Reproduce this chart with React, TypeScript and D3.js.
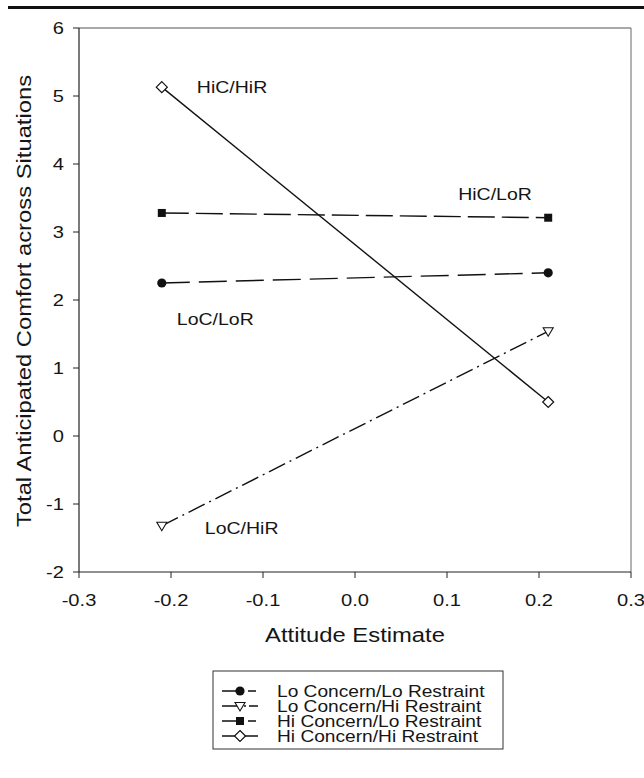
import React from "react";
import * as d3 from "d3";

// values
const attitude = [-0.21, 0.21];
const loConLoRes = [2.25, 2.4];
const loConHiRes = [-1.32, 1.54];
const hiConLoRes = [3.28, 3.21];
const hiConHiRes = [5.13, 0.5];

const seriesNames = [
  "Lo Concern/Lo Restraint",
  "Lo Concern/Hi Restraint",
  "Hi Concern/Lo Restraint",
  "Hi Concern/Hi Restraint",
];
const shortLabels = ["LoC/LoR", "LoC/HiR", "HiC/LoR", "HiC/HiR"];

const xTicks = [-0.3, -0.2, -0.1, 0.0, 0.1, 0.2, 0.3];
const yTicks = [-2, -1, 0, 1, 2, 3, 4, 5, 6];

const W = 644,
  H = 778;
const FONT = "'Liberation Sans', Arial, Helvetica, sans-serif";
const SX = 1.22; // the scanned type is wider than Arial

const x = d3.scaleLinear().domain([-0.3, 0.3]).range([79, 631]);
const y = d3.scaleLinear().domain([-2, 6]).range([572, 28]);

const series = [
  { name: seriesNames[0], label: shortLabels[0], values: loConLoRes, dash: "28,9", legDash: "22,4,8", marker: "circle", lab: { i: 0, dx: 15, dy: 42 } },
  { name: seriesNames[1], label: shortLabels[1], values: loConHiRes, dash: "18,5,2,5", legDash: "18,4,2,3,10", marker: "triangle", lab: { i: 0, dx: 43, dy: 8 } },
  { name: seriesNames[2], label: shortLabels[2], values: hiConLoRes, dash: "27,7", legDash: "22,4,8", marker: "square", lab: { i: 1, dx: -90, dy: -18 } },
  { name: seriesNames[3], label: shortLabels[3], values: hiConHiRes, dash: "none", legDash: "none", marker: "diamond", lab: { i: 0, dx: 35, dy: 6 } },
];

const fmt = (v: number) => d3.format(".1f")(v).replace("\u2212", "-");

const Txt = ({ x, y, size, anchor = "start", rotate = 0, children }: any) => (
  <text
    transform={`translate(${x},${y}) rotate(${rotate}) scale(${SX},1)`}
    textAnchor={anchor}
    fontSize={size}
    fontFamily={FONT}
    fill="#151515"
  >
    {children}
  </text>
);

const Marker = ({ type, cx, cy }: any) => {
  if (type === "circle") return <circle cx={cx} cy={cy} r={4.6} fill="#111" />;
  if (type === "square") return <rect x={cx - 4} y={cy - 4} width={8} height={8} fill="#111" />;
  if (type === "diamond")
    return (
      <path
        d={`M${cx},${cy - 5.5}L${cx + 5.5},${cy}L${cx},${cy + 5.5}L${cx - 5.5},${cy}Z`}
        fill="#fff"
        stroke="#111"
        strokeWidth={1.2}
      />
    );
  return (
    <path
      d={`M${cx - 5},${cy - 3.5}L${cx + 5},${cy - 3.5}L${cx},${cy + 5}Z`}
      fill="#fff"
      stroke="#111"
      strokeWidth={1.1}
    />
  );
};

export default function App() {
  const line = d3
    .line<number>()
    .x((_, i) => x(attitude[i]))
    .y((d) => y(d));

  const legX = 213,
    legTop = 671,
    legRow = 15,
    legFirst = 691;

  return (
    <svg width={W} height={H} style={{ position: "absolute", left: 0, top: 0, background: "#fff" }}>
      <rect x={0} y={0} width={W} height={H} fill="#fff" />
      {/* page rule */}
      <rect x={8} y={6} width={W - 8} height={3} fill="#111" />

      {/* frame */}
      <line x1={x(-0.3)} x2={x(0.3)} y1={y(6)} y2={y(6)} stroke="#555" strokeWidth={1} />
      <line x1={x(0.3)} x2={x(0.3)} y1={y(6)} y2={y(-2)} stroke="#666" strokeWidth={1} />
      <line x1={x(-0.3)} x2={x(-0.3)} y1={y(6)} y2={y(-2)} stroke="#222" strokeWidth={1.2} />
      <line x1={x(-0.3)} x2={x(0.3)} y1={y(-2)} y2={y(-2)} stroke="#222" strokeWidth={1.2} />

      {yTicks.map((t) => (
        <g key={"y" + t}>
          <line x1={x(-0.3) - 6} x2={x(-0.3)} y1={y(t)} y2={y(t)} stroke="#222" strokeWidth={1} />
          <Txt x={x(-0.3) - 15} y={y(t) + 6} size={16.5} anchor="end">
            {String(t)}
          </Txt>
        </g>
      ))}
      {xTicks.map((t) => (
        <g key={"x" + t}>
          <line x1={x(t)} x2={x(t)} y1={y(-2)} y2={y(-2) + 6} stroke="#222" strokeWidth={1} />
          <Txt x={x(t)} y={606} size={16.5} anchor="middle">
            {fmt(t)}
          </Txt>
        </g>
      ))}

      <Txt x={(x(-0.3) + x(0.3)) / 2} y={642} size={19.5} anchor="middle">
        Attitude Estimate
      </Txt>
      <Txt x={31} y={(y(-2) + y(6)) / 2 + 1} size={19.5} anchor="middle" rotate={-90}>
        Total Anticipated Comfort across Situations
      </Txt>

      {/* series */}
      {series.map((s) => (
        <g key={s.name}>
          <path
            d={line(s.values) || ""}
            fill="none"
            stroke="#111"
            strokeWidth={1.4}
            strokeDasharray={s.dash}
          />
          {s.values.map((v, i) => (
            <Marker key={i} type={s.marker} cx={x(attitude[i])} cy={y(v)} />
          ))}
          <Txt
            x={x(attitude[s.lab.i]) + s.lab.dx}
            y={y(s.values[s.lab.i]) + s.lab.dy}
            size={16}
          >
            {s.label}
          </Txt>
        </g>
      ))}

      {/* legend */}
      <rect
        x={legX}
        y={legTop}
        width={290}
        height={78}
        fill="#fff"
        stroke="#333"
        strokeWidth={1}
      />
      {series.map((s, i) => {
        const cy = legFirst + i * legRow;
        return (
          <g key={"leg" + i}>
            <line x1={legX + 9} x2={legX + 45} y1={cy} y2={cy} stroke="#111" strokeWidth={1.4} strokeDasharray={s.legDash} />
            <Marker type={s.marker} cx={legX + 27} cy={cy} />
            <Txt x={legX + 64} y={cy + 5.5} size={15.7}>
              {s.name}
            </Txt>
          </g>
        );
      })}
    </svg>
  );
}
